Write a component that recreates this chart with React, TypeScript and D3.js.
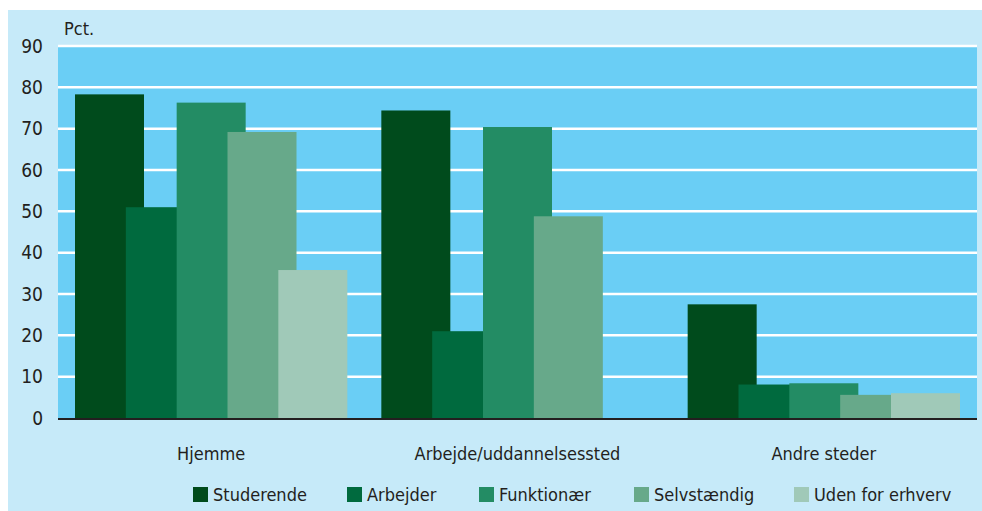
import React from "react";
import * as d3 from "d3";

const categories = ["Hjemme", "Arbejde/uddannelsessted", "Andre steder"];
const seriesNames = ["Studerende", "Arbejder", "Funktionær", "Selvstændig", "Uden for erhverv"];
const studerende = [78.3, 74.4, 27.5];
const arbejder = [51.0, 21.0, 8.1];
const funktionaer = [76.3, 70.4, 8.4];
const selvstaendig = [69.2, 48.8, 5.6];
const udenForErhverv = [35.8, 0, 6.0];
const seriesValues = [studerende, arbejder, funktionaer, selvstaendig, udenForErhverv];
const colors = ["#004b1c", "#006a3e", "#238c64", "#67a98a", "#a0c9b8"];
const yTicks = [0, 10, 20, 30, 40, 50, 60, 70, 80, 90];

const W = 982;
const H = 511;
const plotLeft = 58;
const plotRight = 977;
const plotTop = 46;
const plotBottom = 418;
const font = "'Liberation Sans Narrow', 'DejaVu Sans Condensed', sans-serif";
const textColor = "#231f20";

export default function App() {
  const x = d3.scaleBand<string>().domain(categories).range([plotLeft, plotRight]).padding(0);
  const y = d3.scaleLinear().domain([0, 90]).range([plotBottom, plotTop]);
  const band = x.bandwidth();
  const inner = 17; // group inset
  const barW = 69;
  const step = (band - 2 * inner - barW) / (seriesNames.length - 1);

  const legendX = [193, 347, 479, 634, 794];

  return (
    <svg width={W} height={H} style={{ position: "absolute", left: 0, top: 0 }} fontFamily={font}>
      <rect x={8} y={10} width={W - 8} height={H - 10} fill="#c6eaf9" />
      <rect x={plotLeft} y={plotTop} width={plotRight - plotLeft} height={plotBottom - plotTop} fill="#6acef5" />
      {yTicks.filter((t) => t > 0).map((t) => (
        <line key={t} x1={plotLeft} x2={plotRight} y1={y(t)} y2={y(t)} stroke="#ffffff" strokeWidth={2.5} />
      ))}
      {seriesNames.map((s, si) =>
        categories.map((c, ci) => {
          const v = seriesValues[si][ci];
          if (!v) return null;
          const bx = (x(c) as number) + inner + si * step;
          return (
            <rect
              key={s + c}
              x={bx}
              y={y(v)}
              width={barW}
              height={y(0) - y(v)}
              fill={colors[si]}
            />
          );
        })
      )}
      <line x1={plotLeft} x2={plotRight} y1={y(0) + 1} y2={y(0) + 1} stroke="#231f20" strokeWidth={2} />
      {yTicks.map((t) => (
        <text key={t} x={43} y={y(t) + 6.5} textAnchor="end" fontSize={19} fill={textColor}>
          {t}
        </text>
      ))}
      <text x={64} y={35} fontSize={18} fill={textColor}>Pct.</text>
      {categories.map((c) => (
        <text key={c} x={(x(c) as number) + band / 2} y={460} textAnchor="middle" fontSize={18} fill={textColor}>
          {c}
        </text>
      ))}
      {seriesNames.map((s, i) => (
        <g key={s}>
          <rect x={legendX[i]} y={487} width={15} height={15} fill={colors[i]} />
          <text x={legendX[i] + 20} y={501} fontSize={18} fill={textColor}>{s}</text>
        </g>
      ))}
    </svg>
  );
}
